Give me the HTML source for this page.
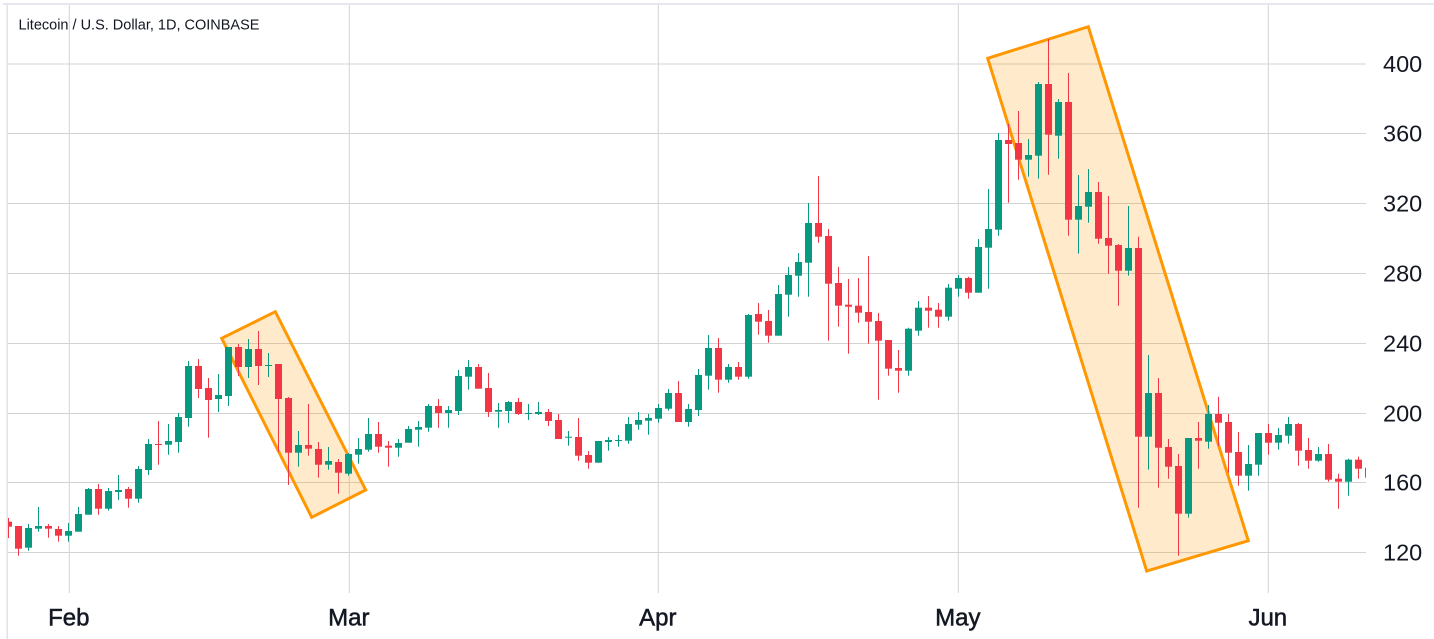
<!DOCTYPE html>
<html>
<head>
<meta charset="utf-8">
<style>
html,body{margin:0;padding:0;background:#fff;}
svg{display:block;}
.g{fill:#089981;}
.r{fill:#f23645;}
.lbl{font-family:"Liberation Sans",sans-serif;font-size:23.5px;fill:#131722;}
.mon{font-family:"Liberation Sans",sans-serif;font-size:24px;fill:#131722;text-anchor:middle;stroke:#131722;stroke-width:0.5px;}
.ttl{font-family:"Liberation Sans",sans-serif;font-size:14.5px;fill:#131722;}
</style>
</head>
<body>
<svg width="1434" height="639" viewBox="0 0 1434 639" xmlns="http://www.w3.org/2000/svg">
<defs>
<clipPath id="ca"><rect x="8" y="5" width="1358" height="588"/></clipPath>
</defs>
<rect x="0" y="0" width="1434" height="639" fill="#fff"/>
<rect x="3" y="3" width="1431" height="2" fill="#e6e8ee"/>
<rect x="6.5" y="3" width="1.5" height="636" fill="#e0e3eb"/>

<!-- horizontal grid -->
<g fill="#d3d3d3">
<rect x="8" y="63.5" width="1358" height="1"/>
<rect x="8" y="133" width="1358" height="1"/>
<rect x="8" y="203" width="1358" height="1"/>
<rect x="8" y="273" width="1358" height="1"/>
<rect x="8" y="343" width="1358" height="1"/>
<rect x="8" y="413" width="1358" height="1"/>
<rect x="8" y="482" width="1358" height="1"/>
<rect x="8" y="552" width="1358" height="1"/>
<!-- vertical grid -->
<rect x="68.8" y="5" width="1" height="588"/>
<rect x="348.8" y="5" width="1" height="588"/>
<rect x="657.8" y="5" width="1" height="588"/>
<rect x="957.8" y="5" width="1" height="588"/>
<rect x="1267.8" y="5" width="1" height="588"/>
</g>

<!-- highlight rectangles -->
<polygon points="221.7,338.3 275.3,311.7 365.7,490 311.7,517.3" fill="rgba(255,152,0,0.2)" stroke="#ff9800" stroke-width="3" stroke-linejoin="miter"/>
<polygon points="987.7,58.3 1088.3,26.7 1248.3,540.7 1146.7,571" fill="rgba(255,152,0,0.2)" stroke="#ff9800" stroke-width="3" stroke-linejoin="miter"/>

<g clip-path="url(#ca)">
<rect class="r" x="5" y="521.7" width="7" height="5"/><rect class="r" x="8" y="518" width="1" height="20"/>
<rect class="r" x="15" y="526" width="7" height="22.7"/><rect class="r" x="18" y="526" width="1" height="29.7"/>
<rect class="g" x="25" y="528" width="7" height="19.7"/><rect class="g" x="28" y="524" width="1" height="26.7"/>
<rect class="g" x="35" y="526" width="7" height="2.7"/><rect class="g" x="38" y="507" width="1" height="24.7"/>
<rect class="r" x="45" y="526" width="7" height="2.7"/><rect class="r" x="48" y="524" width="1" height="13.7"/>
<rect class="r" x="55" y="529" width="7" height="6.7"/><rect class="r" x="58" y="526" width="1" height="15.7"/>
<rect class="g" x="65" y="531" width="7" height="4.7"/><rect class="g" x="68" y="523" width="1" height="18.7"/>
<rect class="g" x="75" y="514" width="7" height="17.7"/><rect class="g" x="78" y="507" width="1" height="24.7"/>
<rect class="g" x="85" y="489" width="7" height="25.7"/><rect class="g" x="88" y="488" width="1" height="26.7"/>
<rect class="r" x="95" y="489" width="7" height="19.7"/><rect class="r" x="98" y="484" width="1" height="30.7"/>
<rect class="g" x="105" y="491" width="7" height="17.7"/><rect class="g" x="108" y="488" width="1" height="22.7"/>
<rect class="g" x="115" y="490" width="7" height="2"/><rect class="g" x="118" y="475" width="1" height="25"/>
<rect class="r" x="125" y="489" width="7" height="9.7"/><rect class="r" x="128" y="487" width="1" height="20.7"/>
<rect class="g" x="135" y="469" width="7" height="29.7"/><rect class="g" x="138" y="466" width="1" height="36.7"/>
<rect class="g" x="145" y="444" width="7" height="26"/><rect class="g" x="148" y="439" width="1" height="36"/>
<rect class="r" x="155" y="444" width="7" height="1"/><rect class="r" x="158" y="421" width="1" height="43.7"/>
<rect class="g" x="165" y="441" width="7" height="3.7"/><rect class="g" x="168" y="424" width="1" height="30.7"/>
<rect class="g" x="175" y="417" width="7" height="25"/><rect class="g" x="178" y="413" width="1" height="39.7"/>
<rect class="g" x="185" y="366" width="7" height="52"/><rect class="g" x="188" y="361" width="1" height="65.7"/>
<rect class="r" x="195" y="366" width="7" height="23"/><rect class="r" x="198" y="359" width="1" height="39"/>
<rect class="r" x="205" y="388" width="7" height="12"/><rect class="r" x="208" y="378" width="1" height="59.7"/>
<rect class="g" x="215" y="395" width="7" height="4"/><rect class="g" x="218" y="374" width="1" height="38"/>
<rect class="g" x="225" y="347" width="7" height="49"/><rect class="g" x="228" y="347" width="1" height="59"/>
<rect class="r" x="235" y="347" width="7" height="20"/><rect class="r" x="238" y="344" width="1" height="32"/>
<rect class="g" x="245" y="349" width="7" height="18"/><rect class="g" x="248" y="339" width="1" height="39"/>
<rect class="r" x="255" y="349" width="7" height="17"/><rect class="r" x="258" y="331" width="1" height="54"/>
<rect class="g" x="265" y="365" width="7" height="1"/><rect class="g" x="268" y="353" width="1" height="24"/>
<rect class="r" x="275" y="364" width="7" height="35"/><rect class="r" x="278" y="364" width="1" height="87.7"/>
<rect class="r" x="285" y="398" width="7" height="54.7"/><rect class="r" x="288" y="397" width="1" height="88"/>
<rect class="g" x="295" y="445" width="7" height="7.7"/><rect class="g" x="298" y="431" width="1" height="35.7"/>
<rect class="r" x="305" y="445" width="7" height="3.7"/><rect class="r" x="308" y="404" width="1" height="51.7"/>
<rect class="r" x="315" y="449" width="7" height="15.7"/><rect class="r" x="318" y="442" width="1" height="35.7"/>
<rect class="g" x="325" y="461" width="7" height="3.7"/><rect class="g" x="328" y="447" width="1" height="22.7"/>
<rect class="r" x="335" y="462" width="7" height="10.7"/><rect class="r" x="338" y="459" width="1" height="34.7"/>
<rect class="g" x="345" y="454" width="7" height="19.7"/><rect class="g" x="348" y="453" width="1" height="22.7"/>
<rect class="g" x="355" y="449" width="7" height="5.7"/><rect class="g" x="358" y="438" width="1" height="25.7"/>
<rect class="g" x="365" y="434" width="7" height="15.7"/><rect class="g" x="368" y="418" width="1" height="33.7"/>
<rect class="r" x="375" y="434" width="7" height="12.7"/><rect class="r" x="378" y="422" width="1" height="30.7"/>
<rect class="r" x="385" y="445.7" width="7" height="2"/><rect class="r" x="388" y="441" width="1" height="25.7"/>
<rect class="g" x="395" y="443" width="7" height="4.7"/><rect class="g" x="398" y="439" width="1" height="17.7"/>
<rect class="g" x="405" y="429" width="7" height="13.7"/><rect class="g" x="408" y="426" width="1" height="16.7"/>
<rect class="g" x="415" y="427" width="7" height="2.7"/><rect class="g" x="418" y="421" width="1" height="25.7"/>
<rect class="g" x="425" y="406" width="7" height="21.7"/><rect class="g" x="428" y="404" width="1" height="27.7"/>
<rect class="r" x="435" y="406" width="7" height="7"/><rect class="r" x="438" y="399" width="1" height="28.7"/>
<rect class="g" x="445" y="410" width="7" height="3"/><rect class="g" x="448" y="406" width="1" height="21.7"/>
<rect class="g" x="455" y="376" width="7" height="35"/><rect class="g" x="458" y="370" width="1" height="45"/>
<rect class="g" x="465" y="367" width="7" height="9.7"/><rect class="g" x="468" y="360" width="1" height="29.7"/>
<rect class="r" x="475" y="367" width="7" height="21.7"/><rect class="r" x="478" y="364" width="1" height="24.7"/>
<rect class="r" x="485" y="388" width="7" height="24"/><rect class="r" x="488" y="373" width="1" height="44"/>
<rect class="g" x="495" y="410" width="7" height="1.7"/><rect class="g" x="498" y="403" width="1" height="24.7"/>
<rect class="g" x="505" y="402" width="7" height="9"/><rect class="g" x="508" y="401" width="1" height="22"/>
<rect class="r" x="515" y="402" width="7" height="12"/><rect class="r" x="518" y="398" width="1" height="17"/>
<rect class="g" x="525" y="413" width="7" height="1"/><rect class="g" x="528" y="404" width="1" height="16"/>
<rect class="g" x="535" y="412" width="7" height="2"/><rect class="g" x="538" y="402" width="1" height="13"/>
<rect class="r" x="545" y="412" width="7" height="9"/><rect class="r" x="548" y="409" width="1" height="17"/>
<rect class="r" x="555" y="420" width="7" height="19"/><rect class="r" x="558" y="414" width="1" height="25"/>
<rect class="g" x="565" y="436.7" width="7" height="1"/><rect class="g" x="568" y="431" width="1" height="14.7"/>
<rect class="r" x="575" y="437" width="7" height="18.7"/><rect class="r" x="578" y="418" width="1" height="42.7"/>
<rect class="r" x="585" y="455" width="7" height="7.7"/><rect class="r" x="588" y="451" width="1" height="17.7"/>
<rect class="g" x="595" y="441" width="7" height="21.7"/><rect class="g" x="598" y="441" width="1" height="21.7"/>
<rect class="g" x="605" y="440" width="7" height="2"/><rect class="g" x="608" y="437" width="1" height="13.7"/>
<rect class="g" x="615" y="440" width="7" height="1"/><rect class="g" x="618" y="435" width="1" height="11.7"/>
<rect class="g" x="625" y="424" width="7" height="16.7"/><rect class="g" x="628" y="417" width="1" height="26.7"/>
<rect class="g" x="635" y="420" width="7" height="4.7"/><rect class="g" x="638" y="412" width="1" height="17.7"/>
<rect class="g" x="645" y="418" width="7" height="2.7"/><rect class="g" x="648" y="414" width="1" height="20.7"/>
<rect class="g" x="655" y="408" width="7" height="10.7"/><rect class="g" x="658" y="404" width="1" height="18.7"/>
<rect class="g" x="665" y="393" width="7" height="15.7"/><rect class="g" x="668" y="389" width="1" height="21.7"/>
<rect class="r" x="675" y="393" width="7" height="29"/><rect class="r" x="678" y="381" width="1" height="41"/>
<rect class="g" x="685" y="409" width="7" height="13"/><rect class="g" x="688" y="404" width="1" height="22.7"/>
<rect class="g" x="695" y="375" width="7" height="35"/><rect class="g" x="698" y="369" width="1" height="47"/>
<rect class="g" x="705" y="348" width="7" height="27.7"/><rect class="g" x="708" y="335" width="1" height="54.7"/>
<rect class="r" x="715" y="348" width="7" height="31.7"/><rect class="r" x="718" y="338" width="1" height="54.7"/>
<rect class="g" x="725" y="367" width="7" height="12.7"/><rect class="g" x="728" y="364" width="1" height="18.7"/>
<rect class="r" x="735" y="367" width="7" height="9.7"/><rect class="r" x="738" y="362" width="1" height="17.7"/>
<rect class="g" x="745" y="315" width="7" height="61.7"/><rect class="g" x="748" y="314" width="1" height="64.7"/>
<rect class="r" x="755" y="314" width="7" height="7.7"/><rect class="r" x="758" y="303" width="1" height="31.7"/>
<rect class="r" x="765" y="321" width="7" height="14.7"/><rect class="r" x="768" y="310" width="1" height="32.7"/>
<rect class="g" x="775" y="294" width="7" height="41.7"/><rect class="g" x="778" y="285" width="1" height="50.7"/>
<rect class="g" x="785" y="275" width="7" height="19.7"/><rect class="g" x="788" y="267" width="1" height="49.7"/>
<rect class="g" x="795" y="262" width="7" height="13.7"/><rect class="g" x="798" y="253" width="1" height="43.7"/>
<rect class="g" x="805" y="223" width="7" height="39.7"/><rect class="g" x="808" y="203" width="1" height="93.7"/>
<rect class="r" x="815" y="223" width="7" height="13.7"/><rect class="r" x="818" y="176" width="1" height="66.7"/>
<rect class="r" x="825" y="236" width="7" height="47.7"/><rect class="r" x="828" y="229" width="1" height="111.7"/>
<rect class="r" x="835" y="283" width="7" height="22.7"/><rect class="r" x="838" y="267" width="1" height="59.7"/>
<rect class="r" x="845" y="304.7" width="7" height="2"/><rect class="r" x="848" y="279" width="1" height="74.7"/>
<rect class="r" x="855" y="305.7" width="7" height="7"/><rect class="r" x="858" y="278" width="1" height="44.7"/>
<rect class="r" x="865" y="312" width="7" height="9.7"/><rect class="r" x="868" y="256" width="1" height="87.7"/>
<rect class="r" x="875" y="321" width="7" height="19.7"/><rect class="r" x="878" y="313" width="1" height="86.7"/>
<rect class="r" x="885" y="340" width="7" height="28.7"/><rect class="r" x="888" y="340" width="1" height="35.7"/>
<rect class="r" x="895" y="368" width="7" height="2.7"/><rect class="r" x="898" y="350" width="1" height="42.7"/>
<rect class="g" x="905" y="328.7" width="7" height="42"/><rect class="g" x="908" y="327.7" width="1" height="48"/>
<rect class="g" x="915" y="307.7" width="7" height="23"/><rect class="g" x="918" y="301" width="1" height="34.7"/>
<rect class="r" x="925" y="307.7" width="7" height="3"/><rect class="r" x="928" y="296" width="1" height="31.7"/>
<rect class="r" x="935" y="309.7" width="7" height="7"/><rect class="r" x="938" y="303" width="1" height="24.7"/>
<rect class="g" x="945" y="287.7" width="7" height="29"/><rect class="g" x="948" y="284" width="1" height="36.7"/>
<rect class="g" x="955" y="278" width="7" height="10.7"/><rect class="g" x="958" y="275" width="1" height="21.7"/>
<rect class="r" x="965" y="278" width="7" height="14.7"/><rect class="r" x="968" y="276.7" width="1" height="22"/>
<rect class="g" x="975" y="247" width="7" height="45.7"/><rect class="g" x="978" y="239" width="1" height="53.7"/>
<rect class="g" x="985" y="229" width="7" height="18.7"/><rect class="g" x="988" y="189" width="1" height="99.7"/>
<rect class="g" x="995" y="140" width="7" height="89.7"/><rect class="g" x="998" y="133" width="1" height="102.7"/>
<rect class="r" x="1005" y="140" width="7" height="4"/><rect class="r" x="1008" y="124" width="1" height="78.7"/>
<rect class="r" x="1015" y="143" width="7" height="16.7"/><rect class="r" x="1018" y="111" width="1" height="68.7"/>
<rect class="g" x="1025" y="155" width="7" height="4.7"/><rect class="g" x="1028" y="139" width="1" height="37.7"/>
<rect class="g" x="1035" y="84" width="7" height="71.7"/><rect class="g" x="1038" y="82" width="1" height="96.7"/>
<rect class="r" x="1045" y="84" width="7" height="50.7"/><rect class="r" x="1048" y="39" width="1" height="135.7"/>
<rect class="g" x="1055" y="102" width="7" height="33.7"/><rect class="g" x="1058" y="99" width="1" height="59.7"/>
<rect class="r" x="1065" y="102" width="7" height="117.7"/><rect class="r" x="1068" y="73" width="1" height="162.7"/>
<rect class="g" x="1075" y="206" width="7" height="13.7"/><rect class="g" x="1078" y="175" width="1" height="78.7"/>
<rect class="g" x="1085" y="192" width="7" height="14.7"/><rect class="g" x="1088" y="169" width="1" height="53.7"/>
<rect class="r" x="1095" y="192" width="7" height="46.7"/><rect class="r" x="1098" y="182" width="1" height="61.7"/>
<rect class="r" x="1105" y="238" width="7" height="7.7"/><rect class="r" x="1108" y="196" width="1" height="77.7"/>
<rect class="r" x="1115" y="245" width="7" height="25.7"/><rect class="r" x="1118" y="244" width="1" height="61.7"/>
<rect class="g" x="1125" y="248" width="7" height="22.7"/><rect class="g" x="1128" y="206" width="1" height="69.7"/>
<rect class="r" x="1135" y="248" width="7" height="188.7"/><rect class="r" x="1138" y="236.7" width="1" height="271"/>
<rect class="g" x="1145" y="393" width="7" height="43.7"/><rect class="g" x="1148" y="355" width="1" height="114.7"/>
<rect class="r" x="1155" y="393" width="7" height="54.7"/><rect class="r" x="1158" y="378" width="1" height="109.7"/>
<rect class="r" x="1165" y="447" width="7" height="19.7"/><rect class="r" x="1168" y="439" width="1" height="39.7"/>
<rect class="r" x="1175" y="466" width="7" height="47.7"/><rect class="r" x="1178" y="454" width="1" height="101.7"/>
<rect class="g" x="1185" y="438" width="7" height="75.7"/><rect class="g" x="1188" y="438" width="1" height="79.7"/>
<rect class="r" x="1195" y="438" width="7" height="2.7"/><rect class="r" x="1198" y="422" width="1" height="46.7"/>
<rect class="g" x="1205" y="414" width="7" height="27.7"/><rect class="g" x="1208" y="405" width="1" height="43.7"/>
<rect class="r" x="1215" y="414" width="7" height="8.7"/><rect class="r" x="1218" y="396.7" width="1" height="49"/>
<rect class="r" x="1225" y="422" width="7" height="30.7"/><rect class="r" x="1228" y="414" width="1" height="58.7"/>
<rect class="r" x="1235" y="452" width="7" height="23.7"/><rect class="r" x="1238" y="432" width="1" height="53.7"/>
<rect class="g" x="1245" y="464" width="7" height="11.7"/><rect class="g" x="1248" y="445" width="1" height="45.7"/>
<rect class="g" x="1255" y="433" width="7" height="31.7"/><rect class="g" x="1258" y="433" width="1" height="42.7"/>
<rect class="r" x="1265" y="433" width="7" height="9.7"/><rect class="r" x="1268" y="424" width="1" height="30.7"/>
<rect class="g" x="1275" y="435" width="7" height="7.7"/><rect class="g" x="1278" y="428" width="1" height="21.7"/>
<rect class="g" x="1285" y="424" width="7" height="11.7"/><rect class="g" x="1288" y="417" width="1" height="26.7"/>
<rect class="r" x="1295" y="424" width="7" height="26.7"/><rect class="r" x="1298" y="423" width="1" height="42.7"/>
<rect class="r" x="1305" y="450" width="7" height="10.7"/><rect class="r" x="1308" y="438" width="1" height="30.7"/>
<rect class="g" x="1315" y="454" width="7" height="6.7"/><rect class="g" x="1318" y="447" width="1" height="14.7"/>
<rect class="r" x="1325" y="454" width="7" height="25.7"/><rect class="r" x="1328" y="444" width="1" height="37.7"/>
<rect class="r" x="1335" y="478.7" width="7" height="3"/><rect class="r" x="1338" y="473.7" width="1" height="35"/>
<rect class="g" x="1345" y="459.7" width="7" height="22"/><rect class="g" x="1348" y="458.7" width="1" height="37"/>
<rect class="r" x="1355" y="459.7" width="7" height="9"/><rect class="r" x="1358" y="456.7" width="1" height="22"/>
<rect class="r" x="1365" y="467.7" width="7" height="10"/><rect class="r" x="1368" y="465" width="1" height="15"/>
</g>

<!-- title -->
<text class="ttl" x="18.5" y="29.5">Litecoin / U.S. Dollar, 1D, COINBASE</text>

<!-- price labels -->
<text class="lbl" x="1383" y="72">400</text>
<text class="lbl" x="1383" y="141.5">360</text>
<text class="lbl" x="1383" y="211.5">320</text>
<text class="lbl" x="1383" y="281.5">280</text>
<text class="lbl" x="1383" y="351.5">240</text>
<text class="lbl" x="1383" y="421.5">200</text>
<text class="lbl" x="1383" y="490.5">160</text>
<text class="lbl" x="1383" y="560.5">120</text>

<!-- month labels -->
<text class="mon" x="68.8" y="625.7">Feb</text>
<text class="mon" x="348.8" y="625.7">Mar</text>
<text class="mon" x="657.8" y="625.7">Apr</text>
<text class="mon" x="957.8" y="625.7">May</text>
<text class="mon" x="1267.8" y="625.7">Jun</text>
</svg>
</body>
</html>
